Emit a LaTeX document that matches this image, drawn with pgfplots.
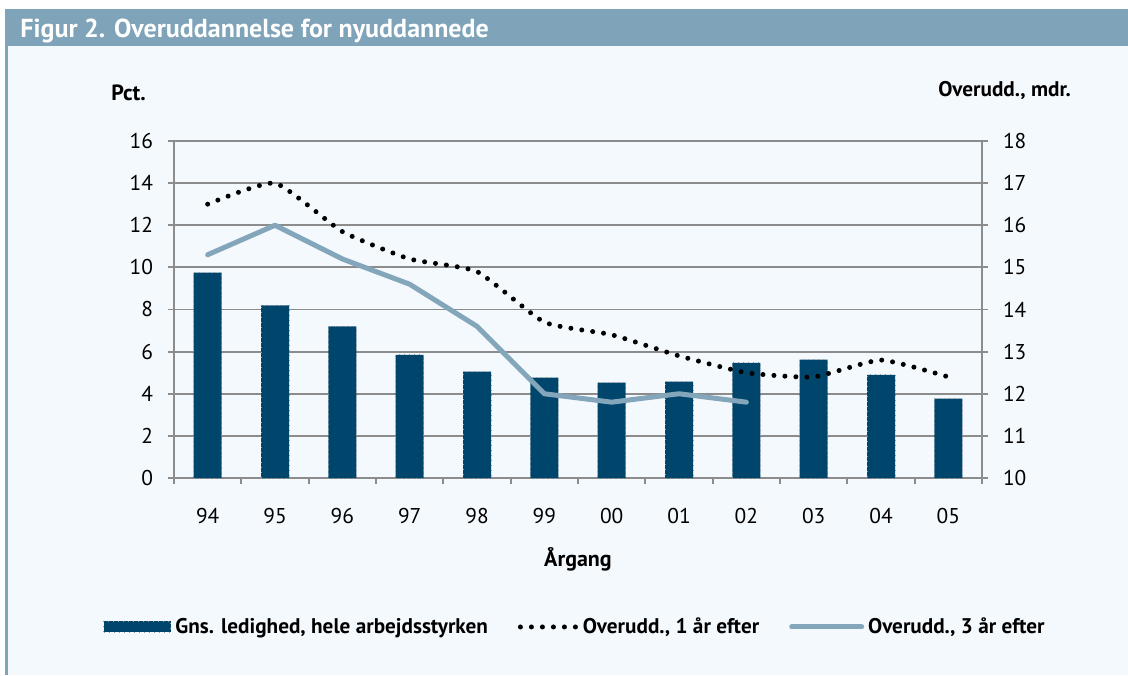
\documentclass[border=0pt]{standalone}
\usepackage{fontspec}
\setmainfont{PT Sans}
\usepackage{pgfplots}
\pgfplotsset{compat=1.18}
\definecolor{hdr}{HTML}{7FA3B8}
\definecolor{bodybg}{HTML}{F4F9FD}
\definecolor{barblue}{HTML}{00456B}
\definecolor{linegray}{HTML}{8C8C8C}
\definecolor{lineblue}{HTML}{84A6BB}
\begin{document}
\begin{tikzpicture}
\path[use as bounding box] (0,0) rectangle (564pt,337.5pt);
\fill[white] (0,0) rectangle (564pt,337.5pt);
\fill[bodybg] (2.5pt,0) rectangle (564pt,314.5pt);
\fill[hdr] (2.5pt,314.5pt) rectangle (564pt,333pt);
\fill[hdr] (2.5pt,0) rectangle (4pt,314.5pt);
\node[anchor=base west,inner sep=0pt,text=white,font=\fontsize{13}{15}\selectfont\bfseries] at (10pt,318.5pt) {Figur 2. Overuddannelse for nyuddannede};
\begin{axis}[
  at={(87pt,98.5pt)}, anchor=south west,
  scale only axis, width=404pt, height=168.5pt,
  xmin=-0.5, xmax=11.5, ymin=0, ymax=16,
  ytick={0,2,...,16},
  xtick={0,...,11},
  xticklabels={94,95,96,97,98,99,00,01,02,03,04,05},
  minor xtick={-0.5,0.5,...,11.5},
  major x tick style={draw=none},
  minor tick length=3pt,
  major tick length=3pt,
  tick align=outside,
  tick style={draw=linegray, line width=0.9pt},
  axis line style={draw=linegray, line width=0.9pt},
  axis x line*=bottom, axis y line*=left,
  ymajorgrids, grid style={draw=linegray, line width=0.9pt},
  /pgf/number format/assume math mode=true,
  ticklabel style={font=\fontsize{10.7}{12}\selectfont},
  yticklabel style={xshift=-4pt},
  xticklabel style={yshift=-8.5pt},
  ylabel={\textbf{Pct.}},
  ylabel style={rotate=-90, at={(axis description cs:-0.0563,1.1187)}, anchor=base, font=\fontsize{11}{13}\selectfont},
  xlabel={\textbf{Årgang}},
  xlabel style={at={(axis description cs:0.5,-0.264)}, anchor=base, font=\fontsize{11}{13}\selectfont},
  legend columns=3,
  legend style={at={(0.4975,-0.442)}, anchor=center, draw=none, fill=none,
    font=\fontsize{10.6}{12}\selectfont\bfseries, inner sep=0pt,
    /tikz/every even column/.append style={column sep=13pt}},
  legend cell align=left,
]
\addplot[ybar, bar width=14pt, fill=barblue, draw=gray!80, dotted, line width=0.5pt,
  legend image code/.code={\path[fill=barblue,draw=gray!80,dotted,line width=0.5pt] (0pt,-2.75pt) rectangle (33.5pt,2.75pt);}]
  coordinates {(0,9.75) (1,8.2) (2,7.2) (3,5.85) (4,5.05) (5,4.76) (6,4.53) (7,4.57) (8,5.47) (9,5.62) (10,4.9) (11,3.77)};
\addlegendentry{Gns. ledighed, hele arbejdsstyrken}
\addlegendimage{legend image code/.code={\draw[black, line width=2.5pt, line cap=round, dash pattern=on 0pt off 5.5pt] (2pt,0pt) -- (30pt,0pt);}}
\addlegendentry{Overudd., 1 år efter}
\addlegendimage{legend image code/.code={\draw[lineblue, line width=2.5pt, line cap=round] (0pt,0pt) -- (35pt,0pt);}}
\addlegendentry{Overudd., 3 år efter}
\end{axis}
\begin{axis}[
  at={(87pt,98.5pt)}, anchor=south west,
  scale only axis, width=404pt, height=168.5pt,
  xmin=-0.5, xmax=11.5, ymin=10, ymax=18,
  ytick={10,...,18},
  axis x line=none, axis y line*=right,
  major tick length=3pt, tick align=outside,
  tick style={draw=linegray, line width=0.9pt},
  axis line style={draw=linegray, line width=0.9pt},
  /pgf/number format/assume math mode=true,
  ticklabel style={font=\fontsize{10.7}{12}\selectfont},
  yticklabel style={xshift=4pt},
  ylabel={\textbf{Overudd., mdr.}},
  ylabel style={rotate=-90, at={(axis description cs:1.1188,1.1306)}, anchor=base east, font=\fontsize{10.6}{12}\selectfont},
]
\addplot[black, line width=2.5pt, line cap=round, dash pattern=on 0pt off 5.5pt, smooth, tension=0.3]
  coordinates {(0,16.5) (1,17.0) (2,15.85) (3,15.2) (4,14.9) (5,13.7) (6,13.4) (7,12.9) (8,12.5) (9,12.4) (10,12.8) (11,12.4)};
\addplot[lineblue, line width=2.5pt, line cap=round, line join=round]
  coordinates {(0,15.3) (1,16.0) (2,15.2) (3,14.6) (4,13.6) (5,12.0) (6,11.8) (7,12.0) (8,11.8)};
\end{axis}
\end{tikzpicture}
\end{document}
